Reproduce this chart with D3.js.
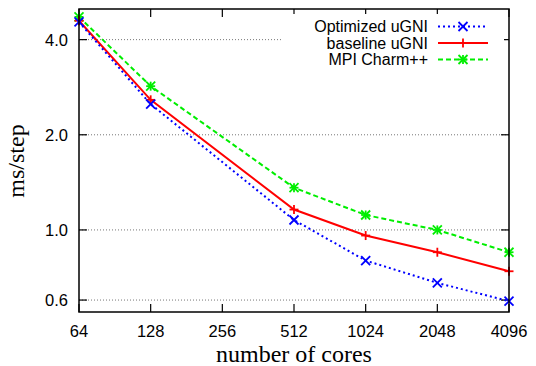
<!DOCTYPE html>
<html>
<head>
<meta charset="utf-8">
<script src="https://cdn.jsdelivr.net/npm/d3@7"></script>
<style>
  body { margin: 0; background: #fff; }
  .tick-label { font-family: "Liberation Sans", Arial, sans-serif; font-size: 16.5px; fill: #000; }
  .axis-title { font-family: "Liberation Serif", "Times New Roman", serif; font-size: 24px; fill: #000; }
  .legend-label { font-family: "Liberation Sans", Arial, sans-serif; font-size: 16px; fill: #000; }
</style>
</head>
<body>
<div class="chart-container"></div>
<script>
// ms/step vs number of cores
var cores = [64, 128, 512, 1024, 2048, 4096];
var optimizedUGNI = [4.55, 2.50, 1.075, 0.80, 0.68, 0.595];
var baselineUGNI = [4.59, 2.58, 1.16, 0.96, 0.85, 0.74];
var mpiCharm = [4.72, 2.85, 1.36, 1.115, 1.0, 0.85];
var xTicks = [64, 128, 256, 512, 1024, 2048, 4096];
var yTicks = [0.6, 1.0, 2.0, 4.0];
var seriesNames = ["Optimized uGNI", "baseline uGNI", "MPI Charm++"];

var margin = { top: 9, right: 27, bottom: 54, left: 79 },
    width = 536 - margin.left - margin.right,
    height = 366 - margin.top - margin.bottom;

var series = [
    { name: seriesNames[0], values: optimizedUGNI, color: "#0000ff", dash: "2,3", marker: "x" },
    { name: seriesNames[1], values: baselineUGNI, color: "#ff0000", dash: null, marker: "plus" },
    { name: seriesNames[2], values: mpiCharm, color: "#00ee00", dash: "5,3", marker: "star" }
];

var svgRoot = d3.select('.chart-container')
    .append('svg')
    .attr("width", width + margin.left + margin.right)
    .attr("height", height + margin.top + margin.bottom);

var svg = svgRoot.append("g")
    .attr("transform", "translate(" + margin.left + "," + margin.top + ")");

var x = d3.scaleLog().base(2)
    .domain([64, 4096])
    .range([0, width]);

var y = d3.scaleLog()
    .domain([0.55, 5])
    .range([height, 0]);

// horizontal grid
svg.append("g")
    .selectAll("line")
    .data(yTicks)
    .enter().append("line")
    .attr("x1", 0)
    .attr("x2", width)
    .attr("y1", function(d) { return y(d); })
    .attr("y2", function(d) { return y(d); })
    .attr("stroke", "#777")
    .attr("stroke-width", 1)
    .attr("stroke-dasharray", "1,2");

// ticks, inside + mirrored
var tickLen = 8;
var ticks = svg.append("g").attr("stroke", "#000").attr("stroke-width", 1.2);
xTicks.forEach(function(t) {
    ticks.append("line").attr("x1", x(t)).attr("x2", x(t)).attr("y1", height).attr("y2", height - tickLen);
    ticks.append("line").attr("x1", x(t)).attr("x2", x(t)).attr("y1", 0).attr("y2", tickLen);
});
yTicks.forEach(function(t) {
    ticks.append("line").attr("x1", 0).attr("x2", tickLen).attr("y1", y(t)).attr("y2", y(t));
    ticks.append("line").attr("x1", width).attr("x2", width - tickLen).attr("y1", y(t)).attr("y2", y(t));
});

// tick labels
svg.append("g")
    .selectAll("text")
    .data(xTicks)
    .enter().append("text")
    .attr("class", "tick-label")
    .attr("x", function(d) { return x(d); })
    .attr("y", height + 25)
    .attr("text-anchor", "middle")
    .text(function(d) { return d; });

svg.append("g")
    .selectAll("text")
    .data(yTicks)
    .enter().append("text")
    .attr("class", "tick-label")
    .attr("x", -11)
    .attr("y", function(d) { return y(d); })
    .attr("dy", "0.36em")
    .attr("text-anchor", "end")
    .text(function(d) { return d3.format(".1f")(d); });

// axis titles
svg.append("text")
    .attr("class", "axis-title")
    .attr("x", width / 2)
    .attr("y", height + 50)
    .attr("text-anchor", "middle")
    .text("number of cores");

svg.append("text")
    .attr("class", "axis-title")
    .attr("transform", "translate(" + (24 - margin.left) + "," + (161 - margin.top) + ") rotate(-90)")
    .attr("text-anchor", "middle")
    .text("ms/step");

function drawMarker(g, type, cx, cy, color) {
    var s = 4.5;
    var m = g.append("g").attr("stroke", color).attr("stroke-width", 1.8);
    if (type === "x" || type === "star") {
        m.append("line").attr("x1", cx - s).attr("y1", cy - s).attr("x2", cx + s).attr("y2", cy + s);
        m.append("line").attr("x1", cx - s).attr("y1", cy + s).attr("x2", cx + s).attr("y2", cy - s);
    }
    if (type === "plus" || type === "star") {
        m.append("line").attr("x1", cx - s).attr("y1", cy).attr("x2", cx + s).attr("y2", cy);
        m.append("line").attr("x1", cx).attr("y1", cy - s).attr("x2", cx).attr("y2", cy + s);
    }
}

var line = d3.line()
    .x(function(d) { return x(d.c); })
    .y(function(d) { return y(d.v); });

// green first, blue on top
series.slice().reverse().forEach(function(s) {
    var pts = cores.map(function(c, i) { return { c: c, v: s.values[i] }; });
    svg.append("path")
        .datum(pts)
        .attr("fill", "none")
        .attr("stroke", s.color)
        .attr("stroke-width", 2)
        .attr("stroke-dasharray", s.dash)
        .attr("d", line);
    pts.forEach(function(p) {
        drawMarker(svg, s.marker, x(p.c), y(p.v), s.color);
    });
});

// legend
var legend = svg.append("g");
legend.append("rect")
    .attr("x", 203)
    .attr("y", 5)
    .attr("width", 222)
    .attr("height", 62)
    .attr("fill", "#fff");

series.forEach(function(s, i) {
    var ly = 17.5 + i * 16.5;
    legend.append("text")
        .attr("class", "legend-label")
        .attr("x", 349)
        .attr("y", ly)
        .attr("dy", "0.36em")
        .attr("text-anchor", "end")
        .text(s.name);
    legend.append("line")
        .attr("x1", 359)
        .attr("x2", 409)
        .attr("y1", ly)
        .attr("y2", ly)
        .attr("stroke", s.color)
        .attr("stroke-width", 2)
        .attr("stroke-dasharray", s.dash);
    drawMarker(legend, s.marker, 384, ly, s.color);
});

// frame
svg.append("rect")
    .attr("width", width)
    .attr("height", height)
    .attr("fill", "none")
    .attr("stroke", "#000")
    .attr("stroke-width", 1.5);
</script>
</body>
</html>
